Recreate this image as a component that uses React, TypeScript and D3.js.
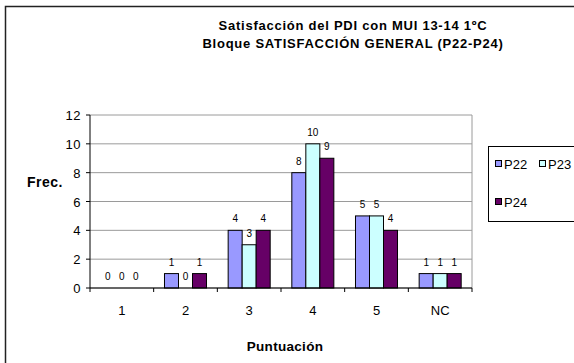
import React from "react";
import * as d3 from "d3";

const categories = ["1", "2", "3", "4", "5", "NC"];
const seriesNames = ["P22", "P23", "P24"];
const p22 = [0, 1, 4, 8, 5, 1];
const p23 = [0, 0, 3, 10, 5, 1];
const p24 = [0, 1, 4, 9, 4, 1];
const yTicks = [0, 2, 4, 6, 8, 10, 12];
const colors = ["#9999FF", "#CCFFFF", "#660066"];
const titleLines = ["Satisfacción del PDI con MUI 13-14 1ºC", "Bloque SATISFACCIÓN GENERAL (P22-P24)"];

const W = 574;
const H = 363;
const plot = { left: 90, right: 472, top: 115, bottom: 288 };
const font = "Arial, 'Liberation Sans', sans-serif";

export default function App() {
  const values = [p22, p23, p24];
  const x0 = d3.scaleBand<string>().domain(categories).range([plot.left, plot.right]);
  const bw = x0.bandwidth();
  const gap = bw * 0.17;
  const x1 = d3.scaleBand<string>().domain(seriesNames).range([gap, bw - gap]);
  const y = d3.scaleLinear().domain([0, 12]).range([plot.bottom, plot.top]);

  return (
    <svg width={W} height={H} style={{ position: "absolute", left: 0, top: 0, background: "#fff" }} fontFamily={font}>
      <rect x={0} y={0} width={W} height={H} fill="#fff" />
      {/* outer frame */}
      <rect x={5.5} y={6.5} width={W + 10} height={H + 10} fill="none" stroke="#222" strokeWidth={1.5} />
      {/* title */}
      {titleLines.map((t, i) => (
        <text key={i} x={353} y={30 + i * 18} textAnchor="middle" fontSize={13} fontWeight="bold" letterSpacing={0.75} fill="#000">
          {t}
        </text>
      ))}
      {/* gridlines */}
      {yTicks.map((t) => (
        <line key={"g" + t} x1={plot.left} x2={plot.right} y1={y(t)} y2={y(t)} stroke="#9a9a9a" strokeWidth={1} />
      ))}
      <line x1={plot.right} x2={plot.right} y1={plot.top} y2={plot.bottom} stroke="#9a9a9a" strokeWidth={1} />
      {/* bars */}
      {values.map((vals, si) =>
        vals.map((v, ci) => {
          const bx = (x0(categories[ci]) as number) + (x1(seriesNames[si]) as number);
          const by = y(v);
          return (
            <g key={si + "-" + ci}>
              {v > 0 && (
                <rect x={bx} y={by} width={x1.bandwidth()} height={y(0) - by} fill={colors[si]} stroke="#000" strokeWidth={1} />
              )}
              <text x={bx + x1.bandwidth() / 2} y={by - 8} textAnchor="middle" fontSize={10} fill="#000">
                {v}
              </text>
            </g>
          );
        })
      )}
      {/* y axis */}
      <line x1={plot.left} x2={plot.left} y1={plot.top} y2={plot.bottom} stroke="#000" strokeWidth={1} />
      {yTicks.map((t) => (
        <g key={"t" + t}>
          <line x1={plot.left - 4} x2={plot.left} y1={y(t)} y2={y(t)} stroke="#000" />
          <text x={plot.left - 9} y={y(t) + 5} textAnchor="end" fontSize={13} letterSpacing={0.5} fill="#000">
            {t}
          </text>
        </g>
      ))}
      {/* x axis */}
      <line x1={plot.left} x2={plot.right} y1={plot.bottom} y2={plot.bottom} stroke="#000" strokeWidth={1} />
      {categories.map((c, i) => (
        <g key={"x" + c}>
          <line x1={x0(c) as number} x2={x0(c) as number} y1={plot.bottom} y2={plot.bottom + 4} stroke="#000" />
          <text x={(x0(c) as number) + bw / 2} y={plot.bottom + 27} textAnchor="middle" fontSize={13} fill="#000">
            {c}
          </text>
        </g>
      ))}
      <line x1={plot.right} x2={plot.right} y1={plot.bottom} y2={plot.bottom + 4} stroke="#000" />
      {/* axis titles */}
      <text x={27} y={187} fontSize={14} fontWeight="bold" letterSpacing={0.5} fill="#000">Frec.</text>
      <text x={285} y={351} textAnchor="middle" fontSize={13.5} fontWeight="bold" letterSpacing={0.3} fill="#000">Puntuación</text>
      {/* legend */}
      <rect x={488.5} y={146.5} width={100} height={75} fill="#fff" stroke="#000" strokeWidth={1} />
      {seriesNames.map((s, i) => {
        const lx = i === 1 ? 539 : 495;
        const ly = i === 2 ? 202 : 164;
        return (
          <g key={"l" + s}>
            <rect x={lx + 0.5} y={ly - 3.5} width={6} height={6} fill={colors[i]} stroke="#000" strokeWidth={1} />
            <text x={lx + 9} y={ly + 5} fontSize={13} fill="#000">{s}</text>
          </g>
        );
      })}
    </svg>
  );
}
